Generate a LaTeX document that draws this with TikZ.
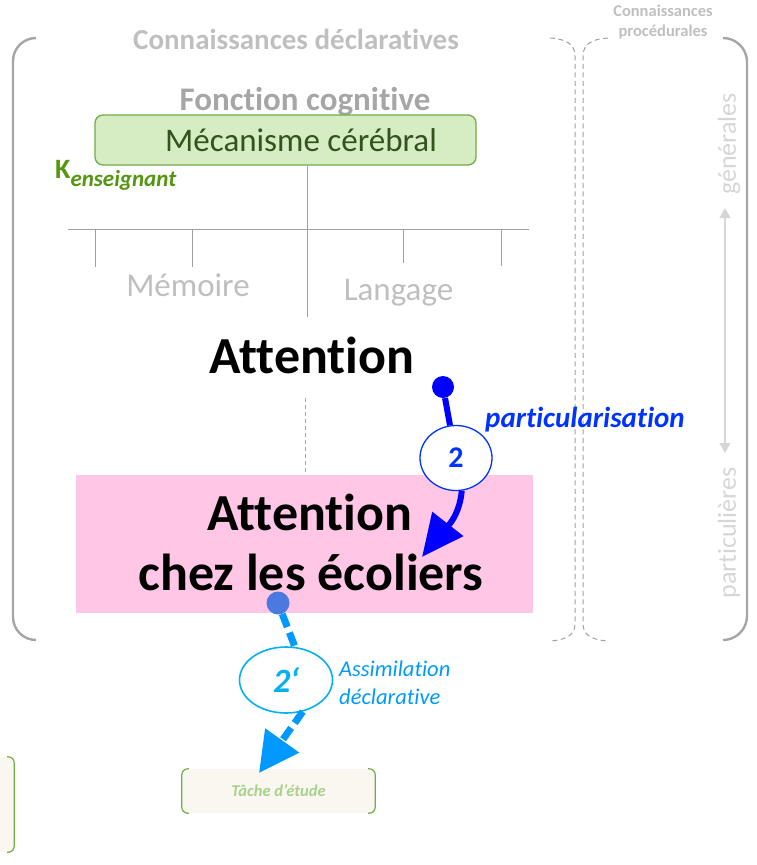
\documentclass[tikz,border=0pt]{standalone}
\usepackage{fontspec}
\setmainfont{Carlito}[Ligatures={NoCommon}]
\usetikzlibrary{arrows.meta,shapes.geometric,calc}
\definecolor{grayA}{RGB}{166,166,166}
\definecolor{grayB}{RGB}{191,191,191}
\definecolor{grayC}{RGB}{214,214,214}
\definecolor{grayD}{RGB}{160,160,160}
\definecolor{mecfill}{RGB}{214,236,195}
\definecolor{mecdraw}{RGB}{112,173,71}
\definecolor{mectext}{RGB}{50,82,30}
\definecolor{kgreen}{RGB}{84,150,16}
\definecolor{pinkfill}{RGB}{255,198,230}
\definecolor{blueA}{RGB}{0,0,255}
\definecolor{blueT}{RGB}{0,51,255}
\definecolor{dotB}{RGB}{74,122,224}
\definecolor{cyanL}{RGB}{0,153,255}
\definecolor{cyanC}{RGB}{0,176,240}
\definecolor{creamfill}{RGB}{250,247,240}
\definecolor{tachetext}{RGB}{169,209,142}
\tikzset{
  bracketline/.style={draw=grayA, line width=2.4pt},
  sepline/.style={draw=grayD, line width=1pt, dash pattern=on 5pt off 3.5pt},
  treeline/.style={draw=grayD, line width=1pt},
  graytitle/.style={text=grayB, font=\bfseries\fontsize{29}{32}\selectfont, inner sep=0},
  lighttext/.style={text=grayB, font=\fontsize{33}{36}\selectfont, inner sep=0},
  axistext/.style={text=grayC, font=\fontsize{26}{28}\selectfont, inner sep=0, rotate=90},
  bigtext/.style={text=black, font=\bfseries\fontsize{52}{60}\selectfont, inner sep=0},
  mecbox/.style={draw=mecdraw, fill=mecfill, line width=1.3pt, rounded corners=8pt, minimum width=381pt, minimum height=50pt, inner sep=0},
  pinkbox/.style={fill=pinkfill, minimum width=457pt, minimum height=138pt, inner sep=0},
  bluedot/.style={circle, fill=blueA, minimum size=22pt, inner sep=0},
  lightdot/.style={circle, fill=dotB, minimum size=23pt, inner sep=0},
  numcirc/.style={ellipse, draw=blueT, line width=1.3pt, fill=white, minimum width=72pt, minimum height=65pt, inner sep=0, text=blueT, font=\bfseries\fontsize{30}{30}\selectfont},
  numcircb/.style={ellipse, draw=cyanC, line width=1.6pt, fill=white, minimum width=93pt, minimum height=66pt, inner sep=0, text=cyanC, font=\bfseries\itshape\fontsize{34}{34}\selectfont},
  arrowtwo/.style={draw=blueA, line width=6pt},
  arrowtwob/.style={draw=cyanL, line width=7pt, dash pattern=on 14pt off 6pt},
  greenbracket/.style={draw=mecdraw, line width=1.2pt, rounded corners=6pt},
  creambox/.style={fill=creamfill, inner sep=0},
}
\begin{document}
\begin{tikzpicture}[x=1pt,y=-1pt]
\useasboundingbox (0,0) rectangle (756,865);

% outer brackets
\draw[bracketline, rounded corners=23pt] (36,38) -- (13,38) -- (13,640) -- (36,640);
\draw[bracketline, rounded corners=24pt] (723,38) -- (747,38) -- (747,640) -- (723,640);
% separator dashed double line
\draw[sepline] (550,38) .. controls (566,39) and (575,44) .. (575,56) -- (575,624) .. controls (575,635) and (566,640) .. (550,641);
\draw[sepline] (608,38) .. controls (592,39) and (583,44) .. (583,56) -- (583,624) .. controls (583,635) and (592,640) .. (608,641);

% titles
\node[graytitle, anchor=base] (cdecl) at (296,49) {Connaissances déclaratives};
\node[text=grayB, font=\bfseries\fontsize{16.5}{20}\selectfont, align=center, inner sep=0] (cproc) at (663,22) {Connaissances\\procédurales};
\node[text=grayA, font=\bfseries\fontsize{33}{36}\selectfont, inner sep=0, anchor=base] (fonc) at (305,110) {Fonction cognitive};

% mechanism box
\node[mecbox] (mec) at (285.5,140) {};
\node[text=mectext, font=\fontsize{33}{36}\selectfont, inner sep=0, anchor=base] (mectxt) at (301,151) {Mécanisme cérébral};
\node[text=kgreen, font=\bfseries\fontsize{28}{30}\selectfont, inner sep=0, anchor=base west] (kens) at (55,178) {K\raisebox{-8pt}{\fontsize{23}{24}\selectfont\itshape enseignant}};

% tree
\coordinate (stem) at (307,317);
\draw[treeline] (mec.south -| stem) -- (stem);
\coordinate (hl) at (68,229);
\coordinate (hr) at (529,229);
\draw[treeline] (hl) -- (hr);
\draw[treeline] (95,229) -- (95,267);
\draw[treeline] (192,229) -- (192,267);
\draw[treeline] (403,229) -- (403,263);
\draw[treeline] (501,229) -- (501,266);
\node[lighttext, anchor=base] (mem) at (188,296) {Mémoire};
\node[lighttext, anchor=base] (lang) at (398.5,300) {Langage};

% attention
\node[bigtext, anchor=base] (att) at (312,373) {Attention};
\node[pinkbox] (ecol) at (304.5,544) {};
\node[bigtext, anchor=base] (ecolA) at (310,530) {Attention};
\node[bigtext, anchor=base] (ecolB) at (311,590) {chez les écoliers};
\coordinate (dl) at (305,398);
\draw[draw=grayA, line width=1pt, dash pattern=on 4pt off 3pt] (dl) -- (dl |- ecol.north);

% right axis
\node[axistext] (gen) at (729,144) {générales};
\node[axistext] (part) at (729,533) {particulières};
\coordinate (axt) at (725,208);
\coordinate (axb) at (725,453);
\draw[draw=grayC, line width=1.5pt, {Triangle[length=10pt,width=11pt]}-{Triangle[length=10pt,width=11pt]}] (axt) -- (axb);

% arrow 2
\node[bluedot] (d2) at (443,387) {};
\node[numcirc] (c2) at (456,458) {2};
\coordinate (t2) at (422,557);
\draw[arrowtwo] (d2) -- (c2);
\draw[arrowtwo, -{Triangle[length=42pt,width=38pt]}] (c2.-80) to[out=-95, in=52] (t2);
\node[text=blueT, font=\bfseries\itshape\fontsize{29}{30}\selectfont, inner sep=0, anchor=base west] (partxt) at (485,427) {particularisation};

% arrow 2'
\node[lightdot] (d3) at (278,603) {};
\node[numcircb] (c3) at (286,680) {2‘};
\node[creambox, minimum width=193pt, minimum height=44pt] (tache) at (278.5,791) {};
\coordinate (t3) at (259,773);
\draw[arrowtwob] (d3) -- (c3.75);
\draw[arrowtwob, -{Triangle[length=40pt,width=40pt]}] (c3.-62) -- (t3);
\node[text=cyanL, font=\itshape\fontsize{22.5}{28}\selectfont, inner sep=0, align=left, anchor=north west] (assim) at (339,661) {Assimilation\\déclarative};

% tache box
\draw[greenbracket] ([xshift=7pt]tache.north west) -- (tache.north west) -- (tache.south west) -- ([xshift=7pt]tache.south west);
\draw[greenbracket] ([xshift=-7pt]tache.north east) -- (tache.north east) -- (tache.south east) -- ([xshift=-7pt]tache.south east);
\node[text=tachetext, font=\bfseries\itshape\fontsize{16.5}{18}\selectfont, inner sep=0] (tachetxt) at (tache.center) {Tâche d’étude};

% left partial box
\node[creambox, minimum width=30pt, minimum height=95pt] (lbox) at (-1,804.5) {};
\draw[greenbracket] ([xshift=-7pt]lbox.north east) -- (lbox.north east) -- (lbox.south east) -- ([xshift=-7pt]lbox.south east);
\end{tikzpicture}
\end{document}
